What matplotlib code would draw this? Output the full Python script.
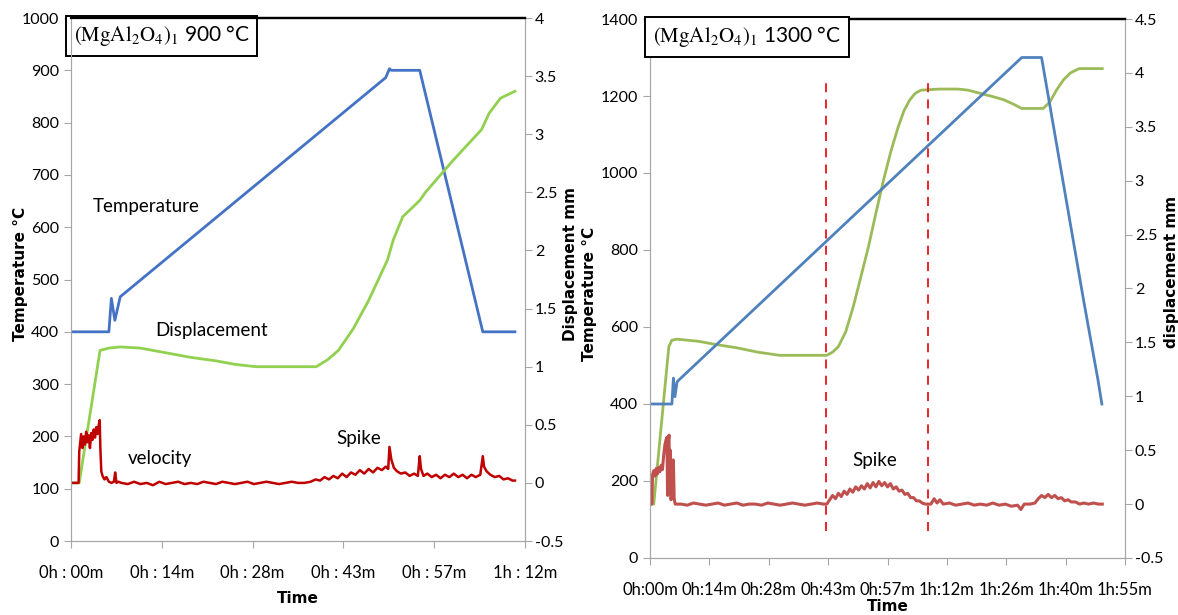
"""Two sintering runs of (MgAl2O4)1: temperature / displacement / velocity vs time"""

import matplotlib
matplotlib.use("Agg")
import matplotlib.pyplot as plt
import matplotlib.ticker as mticker

# ── data, left panel (900 °C), time in minutes ───────────────
l_temp_t = [0, 6.0, 6.4, 6.95, 7.8, 49.9, 50.5, 50.8, 55.3, 65.3, 70.4]
l_temp_v = [400, 400, 464, 422, 467, 886, 903, 900, 900, 400, 400]

l_disp_t = [0, 1.3, 4.6, 6.0, 7.8, 11, 15, 19, 23, 26, 29.3, 33, 38.9, 40.7, 42.4,
            44.8, 47.2, 50.2, 51.1, 52.6, 55.3, 56.2, 60.5, 65.1, 66.3, 68.1, 70.4]
l_disp_v = [0, 0, 1.14, 1.16, 1.17, 1.16, 1.12, 1.08, 1.05, 1.02, 1.0, 1.0, 1.0, 1.06, 1.14,
            1.33, 1.57, 1.92, 2.09, 2.29, 2.43, 2.5, 2.77, 3.04, 3.18, 3.31, 3.37]

l_vel_t = [0, 1.2, 1.3, 1.6, 1.8, 2.0, 2.2, 2.4, 2.6, 2.8, 3.0, 3.2, 3.4, 3.6, 3.8, 4.0,
           4.2, 4.4, 4.55, 4.65, 4.8, 5.0, 5.3, 5.6, 6.0, 6.4, 6.8, 7.0, 7.2, 7.5, 8.0,
           9, 10, 11, 12, 13, 14, 15, 16, 17, 18, 19, 20, 21, 22, 23, 24, 25, 26, 27, 28,
           29, 30, 31, 32, 33, 34, 35, 36, 37, 38,
           38.8, 39.5, 40.2, 40.9, 41.6, 42.3, 43.0, 43.7, 44.4, 45.1, 45.8, 46.5, 47.2,
           47.9, 48.6, 49.3, 49.9, 50.3, 50.5, 50.8, 51.2, 51.7, 52.3, 53.0, 53.7, 54.4,
           55.0, 55.3, 55.5, 55.9, 56.5, 57.2, 57.9, 58.6, 59.3, 60.0, 60.7, 61.4, 62.1,
           62.8, 63.5, 64.2, 64.9, 65.3, 65.5, 65.9, 66.5, 67.2, 67.9, 68.6, 69.3, 70.0, 70.4]
l_vel_v = [0, 0, 0.27, 0.42, 0.30, 0.40, 0.33, 0.44, 0.35, 0.41, 0.30, 0.43, 0.37, 0.46,
           0.39, 0.48, 0.42, 0.50, 0.54, 0.30, 0.10, 0.06, 0.03, 0.05, 0.01, 0.0, 0.01,
           0.09, 0.0, 0.01, 0.0,
           -0.01, 0.01, -0.01, 0.0, -0.02, 0.01, -0.01, 0.0, 0.01, -0.01, 0.0, -0.01, 0.01,
           0.0, -0.01, 0.01, 0.0, -0.01, 0.0, 0.01, -0.01, 0.0, 0.01, 0.0, -0.01, 0.0, 0.01,
           0.0, 0.0, 0.01,
           0.03, 0.02, 0.05, 0.03, 0.06, 0.04, 0.08, 0.05, 0.09, 0.07, 0.11, 0.08, 0.12,
           0.09, 0.13, 0.11, 0.14, 0.12, 0.31, 0.20, 0.13, 0.10, 0.08, 0.09, 0.06, 0.08,
           0.06, 0.23, 0.12, 0.06, 0.08, 0.05, 0.07, 0.04, 0.07, 0.05, 0.08, 0.05, 0.07,
           0.04, 0.07, 0.05, 0.07, 0.23, 0.14, 0.10, 0.07, 0.05, 0.06, 0.03, 0.04, 0.02, 0.02]

l_xticks = ["0h : 00m", "0h : 14m", "0h : 28m", "0h : 43m", "0h : 57m", "1h : 12m"]

# ── data, right panel (1300 °C) ──────────────────────────────
r_temp_t = [0, 5.3, 5.66, 6.03, 6.56, 90.0, 94.8, 105.0, 108.5, 109.4]
r_temp_v = [400, 400, 467, 419, 458, 1300, 1300, 668, 460, 400]

r_disp_t = [0, 0.9, 4.55, 5.28, 6.5, 11.8, 16, 21, 26, 31.4, 37, 42.8, 44.2, 45.6, 47.4,
            49.2, 51.0, 52.9, 54.7, 56.5, 58.3, 60.1, 61.5, 62.9, 64.2, 65.6, 70, 74.6, 77,
            80, 83, 85.7, 88, 90.0, 95.2, 96.8, 98.4, 100.2, 101.8, 103.9, 109.5]
r_disp_v = [0, 0, 1.46, 1.52, 1.53, 1.51, 1.48, 1.45, 1.41, 1.38, 1.38, 1.38, 1.41, 1.46, 1.60,
            1.83, 2.10, 2.39, 2.70, 3.0, 3.27, 3.5, 3.65, 3.75, 3.81, 3.84, 3.85, 3.85, 3.84,
            3.81, 3.78, 3.75, 3.71, 3.67, 3.67, 3.73, 3.84, 3.94, 4.0, 4.04, 4.04]

r_vel_t = [0, 0.45, 0.6, 0.9, 1.2, 1.5, 1.8, 2.1, 2.4, 2.7, 3.0, 3.3, 3.6, 3.9, 4.1, 4.25,
           4.4, 4.6, 4.75, 4.9, 5.1, 5.4, 5.65, 5.85, 6.1, 7.5, 9, 10.5, 12, 13.5, 15, 16.5,
           18, 19.5, 21, 22.5, 24, 25.5, 27, 28.5, 30, 31.5, 33, 34.5, 36, 37.5, 39, 40.5,
           42, 42.8,
           43.5, 44.2, 44.9, 45.6, 46.3, 47.0, 47.7, 48.4, 49.1, 49.8, 50.5, 51.2, 51.9,
           52.6, 53.3, 54.0, 54.7, 55.4, 56.1, 56.8, 57.5, 58.2, 58.9, 59.6, 60.3, 61.0,
           61.7, 62.4, 63.1, 63.8, 64.5, 65.2, 65.9, 66.6, 67.2, 68.0, 68.8, 69.5, 70.2,
           71, 72.5, 74, 75.5, 77, 78.5, 80, 81.5, 83, 84.5, 86, 87.5, 89, 89.8, 90.6, 92,
           93.2, 94.0, 94.8, 95.6, 96.4, 97.2, 98.0, 98.8, 99.6, 100.4, 101.2, 102, 103,
           104, 105, 106.2, 107.4, 108.5, 109.5]
r_vel_v = [0, 0, 0.27, 0.31, 0.26, 0.33, 0.28, 0.34, 0.30, 0.36, 0.32, 0.45, 0.55, 0.60,
           0.62, 0.08, 0.58, 0.64, 0.10, 0.50, 0.04, 0.30, 0.41, 0.05, 0.0, 0.0, -0.01,
           0.01, 0.0, -0.01, 0.0, 0.01, -0.01, 0.0, 0.01, -0.01, 0.0, 0.0, -0.01, 0.01,
           0.0, -0.01, 0.0, 0.01, 0.0, -0.01, 0.0, 0.01, 0.0, 0.0,
           0.04, 0.08, 0.05, 0.10, 0.07, 0.12, 0.09, 0.14, 0.11, 0.16, 0.13, 0.17, 0.14,
           0.19, 0.15, 0.20, 0.16, 0.21, 0.17, 0.20, 0.16, 0.19, 0.14, 0.16, 0.12, 0.13,
           0.09, 0.10, 0.06, 0.06, 0.03, 0.03, 0.01, 0.0, 0.0, 0.0, 0.05, 0.01, 0.04,
           0.0, 0.01, -0.01, 0.0, 0.01, -0.01, 0.0, -0.01, 0.01, -0.01, 0.0, -0.02, -0.01,
           -0.05, 0.0, 0.0, 0.01, 0.05, 0.08, 0.06, 0.09, 0.06, 0.08, 0.05, 0.06, 0.03,
           0.04, 0.02, 0.02, 0.0, 0.01, 0.0, 0.01, 0.0, 0.0]

r_xticks = ["0h:00m", "0h:14m", "0h:28m", "0h:43m", "0h:57m",
            "1h:12m", "1h:26m", "1h:40m", "1h:55m"]
spike_bounds = [42.6, 67.2]  # red dashed markers, minutes

# ── style ────────────────────────────────────────────────────
plt.rcParams.update({
    "font.family": ["Lato", "DejaVu Sans"],
    "mathtext.fontset": "stix",
    "font.size": 12,
})
GRAY = "#A6A6A6"
LBL = dict(family="DejaVu Sans", fontweight="bold", fontsize=11)
ANN = dict(fontsize=13.5, va="center")

fig = plt.figure(figsize=(11.78, 6.15), dpi=100)
axL = fig.add_axes([0.0603, 0.1203, 0.3854, 0.8504])
axR = fig.add_axes([0.5518, 0.0927, 0.4032, 0.8764])


def style(ax, ax2):
    for a in (ax, ax2):
        for s in ("left", "right", "bottom"):
            a.spines[s].set_color(GRAY)
        a.spines["top"].set_color("black")
        a.spines["top"].set_linewidth(1.6)
        a.tick_params(direction="out", length=5, color=GRAY, labelsize=11.5)
    ax.tick_params(axis="x", pad=12, labelsize=12)
    ax2.tick_params(axis="y", pad=2)


def title_box(ax, temp):
    ax.text(0.006, 0.99, r"$\mathrm{(MgAl_2O_4)_1}$" + f" {temp} °C",
            transform=ax.transAxes, ha="left", va="top", fontsize=15,
            bbox=dict(boxstyle="square,pad=0.36", fc="white", ec="black", lw=1.4),
            zorder=10)


# ── left panel ──────────────────────────────────────────────
axL2 = axL.twinx()
axL.plot(l_temp_t, l_temp_v, color="#4472C4", lw=2)
axL2.plot(l_disp_t, l_disp_v, color="#92D050", lw=2)
axL2.plot(l_vel_t, l_vel_v, color="#C00000", lw=1.8)
axL.set_xlim(0, 72)
axL.set_ylim(0, 1000)
axL2.set_ylim(-0.5, 4)
axL.yaxis.set_major_locator(mticker.MultipleLocator(100))
axL2.yaxis.set_major_locator(mticker.MultipleLocator(0.5))
axL2.yaxis.set_major_formatter(mticker.FuncFormatter(lambda v, p: f"{v:g}"))
axL.set_xticks([72 / 5 * i for i in range(6)])
axL.set_xticklabels(l_xticks)
axL.set_xlabel("Time", **LBL)
axL.set_ylabel("Temperature °C", **LBL)
axL2.set_ylabel("Displacement mm", **LBL)
axL.yaxis.set_label_coords(-0.095, 0.51)
axL2.yaxis.set_label_coords(1.083, 0.53)
axL.xaxis.set_label_coords(0.5, -0.096)
style(axL, axL2)
title_box(axL, 900)
axL.text(3.4, 640, "Temperature", **ANN)
axL.text(13.4, 402, "Displacement", **ANN)
axL.text(9.0, 157, "velocity", **ANN)
axL.text(42.0, 196, "Spike", **ANN)

# ── right panel ─────────────────────────────────────────────
axR2 = axR.twinx()
axR.plot(r_temp_t, r_temp_v, color="#4F81BD", lw=2)
axR2.plot(r_disp_t, r_disp_v, color="#9BBB59", lw=2)
axR2.plot(r_vel_t, r_vel_v, color="#C0504D", lw=2.2)
axR.vlines(spike_bounds, 70, 1240, colors="#E8141A", linestyles=(0, (5, 4)), lw=1.3, zorder=6)
axR.set_zorder(axR2.get_zorder() + 1)
axR.patch.set_visible(False)
axR.set_xlim(0, 115)
axR.set_ylim(0, 1400)
axR2.set_ylim(-0.5, 4.5)
axR.yaxis.set_major_locator(mticker.MultipleLocator(200))
axR2.yaxis.set_major_locator(mticker.MultipleLocator(0.5))
axR2.yaxis.set_major_formatter(mticker.FuncFormatter(lambda v, p: f"{v:g}"))
axR.set_xticks([115 / 8 * i for i in range(9)])
axR.set_xticklabels(r_xticks)
axR.set_xlabel("Time", **LBL)
axR.set_ylabel("Temperature °C", **LBL)
axR2.set_ylabel("displacement mm", **LBL)
axR.yaxis.set_label_coords(-0.112, 0.49)
axR2.yaxis.set_label_coords(1.082, 0.53)
axR.xaxis.set_label_coords(0.5, -0.077)
style(axR, axR2)
title_box(axR, 1300)
axR.text(49.0, 253, "Spike", **ANN)

fig.savefig("out.png", dpi=100)
plt.close(fig)
